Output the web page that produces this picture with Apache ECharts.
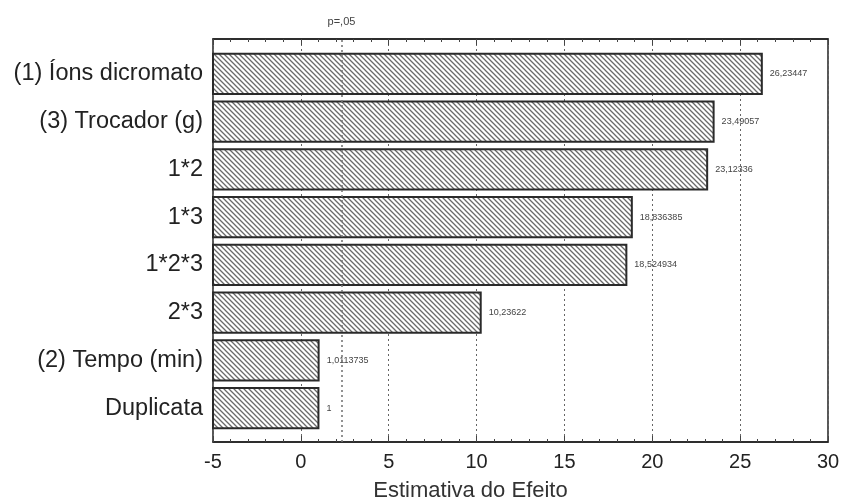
<!DOCTYPE html>
<html><head><meta charset="utf-8">
<script src="https://cdn.jsdelivr.net/npm/echarts/dist/echarts.min.js"></script>
<style>html,body{margin:0;padding:0;background:#fff}#c{width:843px;height:502px}</style>
</head><body><div id="c"></div>
<script>
const categories = ['(1) Íons dicromato','(3) Trocador (g)','1*2','1*3','1*2*3','2*3','(2) Tempo (min)','Duplicata'];
const effects = [26.23447, 23.49057, 23.12336, 18.836385, 18.524934, 10.23622, 1.0113735, 1];
const effectLabels = ['26,23447','23,49057','23,12336','18,836385','18,524934','10,23622','1,0113735','1'];
const xMin = -5, xMax = 30, xStep = 5;
const pCritical = 2.306;
const pLabel = 'p=,05';
const xName = 'Estimativa do Efeito';

const FONT = '"Liberation Sans", Arial, sans-serif';

// hatch pattern
const tile = document.createElement('canvas');
tile.width = 5; tile.height = 5;
const g = tile.getContext('2d');
g.fillStyle = '#ffffff'; g.fillRect(0,0,5,5);
g.strokeStyle = '#6a6a6a'; g.lineWidth = 1.3;
g.beginPath();
g.moveTo(-1,-1); g.lineTo(6,6);
g.moveTo(-1,4); g.lineTo(1,6);
g.moveTo(4,-1); g.lineTo(6,1);
g.stroke();
const hatch = {image: tile, repeat: 'repeat'};

const chart = echarts.init(document.getElementById('c'), null, {renderer:'canvas'});
const axisCommon = {
  type:'value', min:xMin, max:xMax, interval:xStep, gridIndex:0,
  axisLine:{show:true, lineStyle:{color:'#222', width:1.5}},
  axisTick:{show:true, inside:true, length:6, lineStyle:{color:'#444'}},
  minorTick:{show:true, splitNumber:5, length:3, lineStyle:{color:'#444'}}
};
chart.setOption({
  animation:false,
  grid:[
    {left:213, right:15, top:39, bottom:60, show:true, borderColor:'#222', borderWidth:1.5, backgroundColor:'transparent', containLabel:false, outerBoundsMode:'none'},
    {left:213, right:15, top:50, bottom:70, containLabel:false, outerBoundsMode:'none'}
  ],
  xAxis:[
    Object.assign({}, axisCommon, {
      position:'bottom',
      name:xName, nameLocation:'middle', nameGap:38,
      nameTextStyle:{fontSize:22, color:'#333', fontFamily:FONT, padding:[0,100,0,0]},
      axisLabel:{fontSize:20, color:'#222', fontFamily:FONT, margin:10},
      splitLine:{show:true, lineStyle:{type:[2,3], color:'#666', width:1}}
    }),
    Object.assign({}, axisCommon, {
      position:'top', axisLabel:{show:false}, splitLine:{show:false}
    }),
    {type:'value', min:xMin, max:xMax, interval:xStep, gridIndex:1, show:false}
  ],
  yAxis:[
    {type:'value', gridIndex:0, min:0, max:1, show:false},
    {type:'category', gridIndex:1, data:categories, inverse:true,
     axisLine:{show:false}, axisTick:{show:false},
     axisLabel:{fontSize:23.5, color:'#222', fontFamily:FONT, margin:10}}
  ],
  series:[
    {
      type:'line', xAxisIndex:0, yAxisIndex:0, data:[], z:1,
      markLine:{
        silent:true, symbol:'none', animation:false,
        lineStyle:{type:[2,3], color:'#777', width:1.6},
        label:{show:true, position:'end', formatter:pLabel, fontSize:11, color:'#444', fontFamily:FONT, distance:12},
        data:[{xAxis:pCritical}]
      }
    },
    {
      type:'custom', xAxisIndex:2, yAxisIndex:1, z:3,
      data: effects.map((v,i)=>[v,i]),
      encode:{x:0, y:1},
      renderItem:(params, api)=>{
        const idx = api.value(1);
        const end = api.coord([api.value(0), idx]);
        const start = api.coord([xMin, idx]);
        const h = api.size([0,1])[1]*0.84;
        return {
          type:'rect',
          shape:{x:start[0], y:end[1]-h/2, width:end[0]-start[0], height:h},
          style:{fill:hatch, stroke:'#2a2a2a', lineWidth:2},
          textContent:{style:{text:effectLabels[params.dataIndex], fill:'#444', fontSize:9, fontFamily:FONT}},
          textConfig:{position:'right', distance:7}
        };
      }
    }
  ]
});
</script>
</body></html>
